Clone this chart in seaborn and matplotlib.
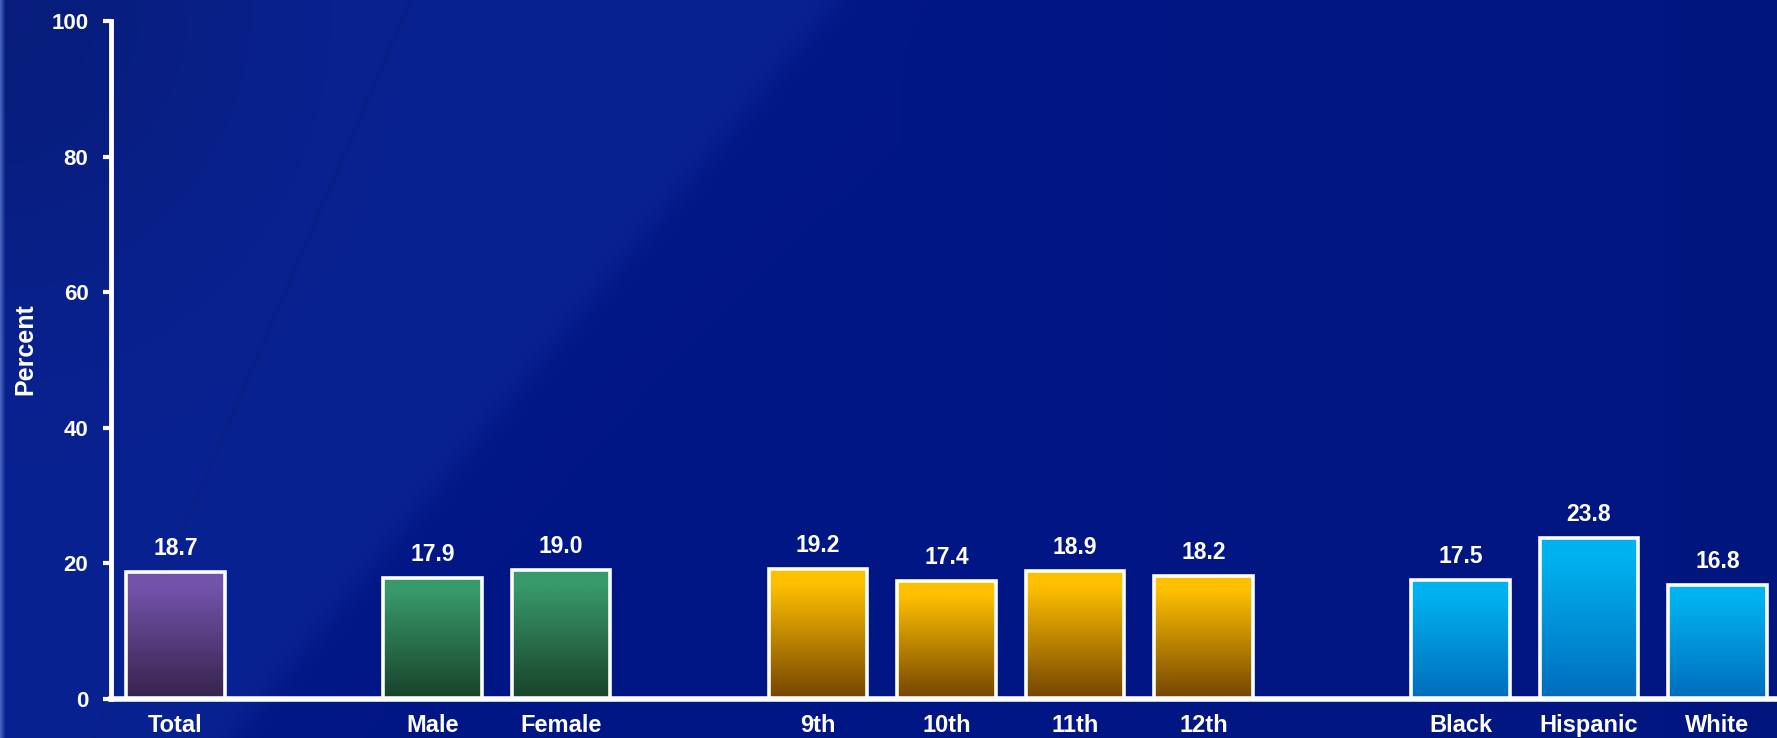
import numpy as np
import pandas as pd
import matplotlib
matplotlib.use("Agg")
import matplotlib.pyplot as plt
import seaborn as sns
from matplotlib.colors import to_rgb

# Percentages by group
categories = ["Total", "Male", "Female", "9th", "10th", "11th", "12th",
              "Black", "Hispanic", "White"]
values = [18.7, 17.9, 19.0, 19.2, 17.4, 18.9, 18.2, 17.5, 23.8, 16.8]
groups = ["Total", "Sex", "Sex", "Grade", "Grade", "Grade", "Grade",
          "Race", "Race", "Race"]
# slot on the x axis (gaps separate the groups)
slots = [0, 2, 3, 5, 6, 7, 8, 10, 11, 12]
y_ticks = [0, 20, 40, 60, 80, 100]

# top / bottom colours of each group's gradient fill
grad_top = {"Total": "#7253aa", "Sex": "#38996a", "Grade": "#ffc000", "Race": "#00b2f0"}
grad_bottom = {"Total": "#37224d", "Sex": "#184229", "Grade": "#734400", "Race": "#006cbc"}

df = pd.DataFrame({"slot": slots, "value": values, "group": groups, "label": categories})

sns.set_theme(style="white")
plt.rcParams["font.family"] = ["Liberation Sans", "DejaVu Sans"]
plt.rcParams["font.weight"] = "bold"

W, H = 1777, 738
fig = plt.figure(figsize=(W / 100, H / 100), dpi=100)

# slide-style background: dark blue with a lighter diagonal sweep on the left
bg_ax = fig.add_axes([0, 0, 1, 1], zorder=-10)
yy, xx = np.mgrid[0:H, 0:W].astype(float)
base = np.array([2, 23, 134]) / 255.0
light = np.array([9, 34, 146]) / 255.0
line_a = 410 - 0.43 * yy
line_b = 835 - 0.82 * yy
left_of_b = 1 / (1 + np.exp((xx - line_b) / 12.0))
img = base * (1 - left_of_b[..., None]) + light * left_of_b[..., None]
# faint darker stroke along the inner diagonal
stroke = np.exp(-((xx - line_a) / 3.0) ** 2)[..., None]
img = img * (1 - 0.05 * stroke)
# darker corner at top left
corner = np.exp(-((xx / 260.0) ** 2 + (yy / 300.0) ** 2))[..., None]
img = img * (1 - 0.15 * corner)
# slightly darker towards the right
fade = np.clip((xx - 900) / 877, 0, 1)[..., None]
img = img * (1 - 0.05 * fade)
# light strip at the far left edge
strip = np.clip(1 - xx / 5.0, 0, 1)[..., None]
img = img * (1 - strip) + np.array([70, 100, 190]) / 255.0 * strip
bg_ax.imshow(np.clip(img, 0, 1), aspect="auto", extent=[0, 1, 0, 1], origin="upper")
bg_ax.set_axis_off()

ax_left = 110.6 / W
ax_bottom = (H - 699) / H
ax_top = (H - 21) / H
ax = fig.add_axes([ax_left, ax_bottom, 1 - ax_left, ax_top - ax_bottom])
ax.set_facecolor("none")

sns.barplot(data=df, x="slot", y="value", hue="group", native_scale=True,
            palette=grad_top, width=0.77, edgecolor="white", linewidth=2.6,
            legend=False, ax=ax, zorder=3)

# gradient fills clipped to each bar
for patch in ax.patches:
    h = patch.get_height()
    if h <= 0:
        continue
    x0 = patch.get_x()
    w = patch.get_width()
    fc = patch.get_facecolor()[:3]
    grp = min(grad_top, key=lambda g: np.sum((np.array(to_rgb(grad_top[g])) - np.array(fc)) ** 2))
    top = np.array(to_rgb(grad_top[grp]))
    bot = np.array(to_rgb(grad_bottom[grp]))
    t = np.linspace(0, 1, 256)
    t = np.clip((t - 0.12) / 0.88, 0, 1)[:, None]
    col = top * (1 - t) + bot * t
    grad = np.repeat(col[:, None, :], 2, axis=1)
    im = ax.imshow(grad, extent=[x0, x0 + w, 0, h], aspect="auto", origin="upper",
                   zorder=2.5, interpolation="bilinear")
    im.set_clip_path(patch)
    patch.set_facecolor("none")

# value labels
for sl, v in zip(slots, values):
    ax.text(sl, v + 2.5, f"{v:.1f}", ha="center", va="baseline", color="white",
            fontsize=16.5, fontweight="bold", zorder=5)

ax.set_xlim(-0.505, 12.463)
ax.set_ylim(0, 100)
ax.set_xticks(slots)
ax.set_xticklabels(categories)
ax.set_yticks(y_ticks)
ax.set_yticklabels([str(t) for t in y_ticks])
ax.tick_params(axis="x", length=0, pad=11, labelsize=17, labelcolor="white")
ax.tick_params(axis="y", length=6, width=3, color="white", pad=10,
               labelsize=16, labelcolor="white", left=True, direction="out")
for lab in ax.get_xticklabels() + ax.get_yticklabels():
    lab.set_fontweight("bold")

ax.set_xlabel("")
ax.set_ylabel("Percent", color="white", fontsize=18, fontweight="bold")
ax.yaxis.set_label_coords((25 - 110.6) / (W - 110.6), 0.5 + (359 - 348) / 678)
ax.yaxis.label.set_verticalalignment("center")

for side in ["top", "right"]:
    ax.spines[side].set_visible(False)
ax.spines["left"].set_color("white")
ax.spines["left"].set_linewidth(3.5)
ax.spines["bottom"].set_color("white")
ax.spines["bottom"].set_linewidth(4)
ax.spines["left"].set_zorder(6)
ax.spines["bottom"].set_zorder(6)

fig.savefig("out.png", dpi=100, facecolor="#03178a")
